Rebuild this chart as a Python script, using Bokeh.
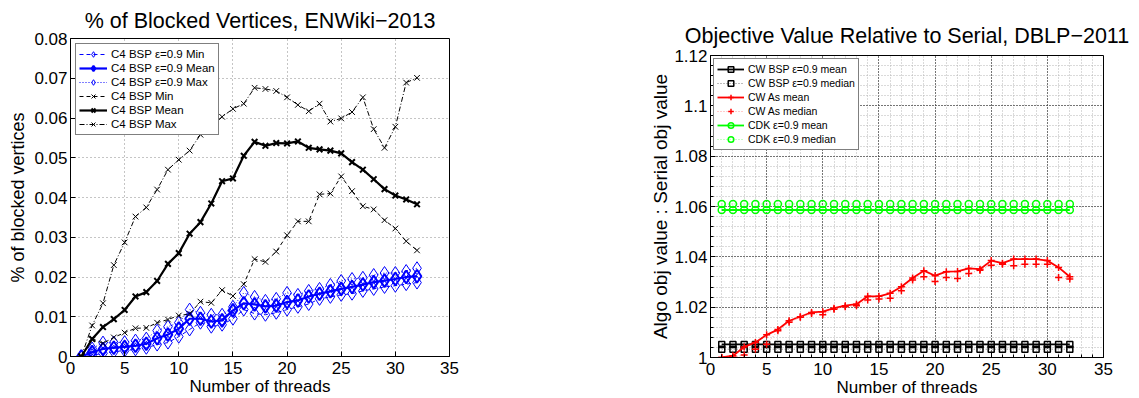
from bokeh.plotting import figure
from bokeh.layouts import row, column
from bokeh.models import (Range1d, FixedTicker, SingleIntervalTicker, CustomJSTickFormatter, Legend)
from bokeh.embed import file_html
from bokeh.resources import INLINE

FONT = "Liberation Sans"

# ---------------- data: left chart ----------------
threads = list(range(1, 33))

bsp_eps_min = [0, 0.0003, 0.0008, 0.0012, 0.0015, 0.0018, 0.0022, 0.0030, 0.0035, 0.0050,
               0.0068, 0.0085, 0.0075, 0.0080, 0.0095, 0.0118, 0.0108, 0.0105, 0.0110, 0.0118,
               0.0125, 0.0132, 0.0145, 0.0150, 0.0155, 0.0158, 0.0165, 0.0170, 0.0175, 0.0178,
               0.0182, 0.0186]
bsp_eps_mean = [0, 0.0011, 0.0019, 0.0022, 0.0024, 0.0027, 0.0032, 0.0046, 0.0055, 0.0070,
                0.0095, 0.0095, 0.0088, 0.0091, 0.0116, 0.0134, 0.0131, 0.0126, 0.0128, 0.0137,
                0.0141, 0.0151, 0.0158, 0.0164, 0.0170, 0.0175, 0.0181, 0.0187, 0.0191, 0.0195,
                0.0200, 0.0202]
bsp_eps_max = [0, 0.0020, 0.0035, 0.0035, 0.0036, 0.0040, 0.0045, 0.0065, 0.0075, 0.0085,
               0.0118, 0.0110, 0.0105, 0.0105, 0.0125, 0.0160, 0.0150, 0.0140, 0.0145, 0.0160,
               0.0155, 0.0165, 0.0170, 0.0180, 0.0190, 0.0195, 0.0198, 0.0205, 0.0210, 0.0210,
               0.0215, 0.0222]
bsp_min = [0, 0.0045, 0.0033, 0.0048, 0.0060, 0.0071, 0.0072, 0.0085, 0.0093, 0.0103,
           0.0107, 0.0138, 0.0135, 0.0167, 0.0152, 0.0182, 0.0245, 0.0238, 0.0264, 0.0305,
           0.0340, 0.0340, 0.0408, 0.0410, 0.0453, 0.0416, 0.0378, 0.0370, 0.0343, 0.0322,
           0.0290, 0.0267]
bsp_mean = [0, 0.0044, 0.0074, 0.0094, 0.0117, 0.0151, 0.0162, 0.0190, 0.0233, 0.0260,
            0.0309, 0.0338, 0.0385, 0.0441, 0.0448, 0.0505, 0.0540, 0.0530, 0.0537, 0.0536,
            0.0541, 0.0525, 0.0521, 0.0518, 0.0511, 0.0489, 0.0470, 0.0446, 0.0421, 0.0405,
            0.0395, 0.0383]
bsp_max = [0, 0.0078, 0.0134, 0.0230, 0.0287, 0.0352, 0.0375, 0.0420, 0.0470, 0.0495,
           0.0518, 0.0558, 0.0580, 0.0603, 0.0623, 0.0636, 0.0676, 0.0673, 0.0668, 0.0652,
           0.0633, 0.0617, 0.0636, 0.0591, 0.0599, 0.0615, 0.0652, 0.0572, 0.0525, 0.0578,
           0.0689, 0.0701]

left_xticks = [0, 5, 10, 15, 20, 25, 30, 35]
left_yticks = [0, 0.01, 0.02, 0.03, 0.04, 0.05, 0.06, 0.07, 0.08]

# ---------------- data: right chart ----------------
cw_bsp_mean = [1.0052] * 32
cw_bsp_median = [1.0033] * 32
cw_as_mean = [1.0000, 1.0007, 1.0042, 1.0060, 1.0090, 1.0111, 1.0146, 1.0162, 1.0179, 1.0182,
              1.0196, 1.0206, 1.0212, 1.0243, 1.0243, 1.0255, 1.0281, 1.0316, 1.0345, 1.0325,
              1.0341, 1.0342, 1.0354, 1.0351, 1.0385, 1.0375, 1.0391, 1.0391, 1.0391, 1.0385,
              1.0358, 1.0321]
cw_as_median = [1.0000, 1.0001, 1.0010, 1.0033, 1.0053, 1.0106, 1.0140, 1.0160, 1.0175, 1.0170,
                1.0192, 1.0202, 1.0206, 1.0228, 1.0232, 1.0235, 1.0265, 1.0308, 1.0321, 1.0302,
                1.0318, 1.0314, 1.0334, 1.0347, 1.0367, 1.0371, 1.0365, 1.0371, 1.0371, 1.0371,
                1.0318, 1.0312]
cdk_mean = [1.0586] * 32
cdk_median = [1.0610] * 32

fmt_code = "return (Math.round(tick*1000)/1000).toString();"


def style_axes(p, tick_size="17px", label_size="17px"):
    for ax in (p.xaxis[0], p.yaxis[0]):
        ax.major_label_text_font = FONT
        ax.major_label_text_font_size = tick_size
        ax.axis_label_text_font = FONT
        ax.axis_label_text_font_size = label_size
        ax.axis_label_text_font_style = "normal"
        ax.major_tick_in = 5
        ax.major_tick_out = 0
        ax.axis_line_color = "black"
        ax.major_tick_line_color = "black"
        ax.major_label_text_color = "black"
        ax.axis_label_text_color = "black"
        ax.formatter = CustomJSTickFormatter(code=fmt_code)
    p.xaxis[0].major_label_standoff = 5
    p.yaxis[0].major_label_standoff = 3
    p.xaxis[0].axis_label_standoff = 0
    p.yaxis[0].axis_label_standoff = 3
    p.outline_line_color = "black"
    p.outline_line_alpha = 1
    p.background_fill_color = "white"
    p.border_fill_color = "white"
    p.title.text_font = FONT
    p.title.text_font_size = "21.5px"
    p.title.text_font_style = "normal"
    p.title.align = "center"
    p.title.text_color = "black"


# ---------------- left figure ----------------
p1 = figure(frame_width=379, frame_height=318, output_backend="svg", toolbar_location=None,
            x_range=Range1d(0, 35), y_range=Range1d(0, 0.08),
            title="% of Blocked Vertices, ENWiki\u22122013",
            min_border_left=70, min_border_top=38, min_border_right=111, min_border_bottom=20)
style_axes(p1)
p1.title.standoff = 12
p1.xaxis[0].ticker = FixedTicker(ticks=left_xticks, minor_ticks=[])
p1.yaxis[0].ticker = FixedTicker(ticks=left_yticks, minor_ticks=[])
p1.xaxis[0].minor_tick_line_color = None
p1.yaxis[0].minor_tick_line_color = None
p1.xaxis.axis_label = "Number of threads"
p1.yaxis.axis_label = "% of blocked vertices"
p1.yaxis[0].axis_label_text_font_size = "18px"
for g in (p1.xgrid[0], p1.ygrid[0]):
    g.grid_line_color = "#8a8a8a"
    g.grid_line_dash = "1 3"
    g.grid_line_width = 1

BLUE = "#0000ff"
r1 = p1.line(threads, bsp_eps_min, line_color=BLUE, line_dash="4 3", line_width=1)
s1 = p1.scatter(threads, bsp_eps_min, marker="diamond", size=13, fill_color=None, line_color=BLUE, line_width=1)
r2 = p1.line(threads, bsp_eps_mean, line_color=BLUE, line_width=2.2)
s2 = p1.scatter(threads, bsp_eps_mean, marker="diamond", size=13, fill_color=None, line_color=BLUE, line_width=2)
r3 = p1.line(threads, bsp_eps_max, line_color=BLUE, line_dash="1 2", line_width=1)
s3 = p1.scatter(threads, bsp_eps_max, marker="diamond", size=13, fill_color=None, line_color=BLUE, line_width=1)
r4 = p1.line(threads, bsp_min, line_color="black", line_dash="4 3", line_width=1)
s4 = p1.scatter(threads, bsp_min, marker="x", size=8, line_color="black", line_width=1)
r5 = p1.line(threads, bsp_mean, line_color="black", line_width=2.2)
s5 = p1.scatter(threads, bsp_mean, marker="x", size=8, line_color="black", line_width=2)
r6 = p1.line(threads, bsp_max, line_color="black", line_dash="5 2 1 2", line_width=1)
s6 = p1.scatter(threads, bsp_max, marker="x", size=8, line_color="black", line_width=1)

leg1 = Legend(items=[
    ("C4 BSP \u03b5=0.9 Min", [r1, s1]),
    ("C4 BSP \u03b5=0.9 Mean", [r2, s2]),
    ("C4 BSP \u03b5=0.9 Max", [r3, s3]),
    ("C4 BSP Min", [r4, s4]),
    ("C4 BSP Mean", [r5, s5]),
    ("C4 BSP Max", [r6, s6]),
], location="top_left")

# ---------------- right figure ----------------
p2 = figure(frame_width=393, frame_height=302, output_backend="svg", toolbar_location=None,
            x_range=Range1d(0, 35), y_range=Range1d(1, 1.12),
            title="Objective Value Relative to Serial, DBLP\u22122011",
            min_border_left=150, min_border_top=55, min_border_right=33, min_border_bottom=20)
style_axes(p2)
p2.title.standoff = 16
p2.xaxis[0].ticker = SingleIntervalTicker(interval=5, num_minor_ticks=5)
p2.yaxis[0].ticker = SingleIntervalTicker(interval=0.02, num_minor_ticks=5)
for ax in (p2.xaxis[0], p2.yaxis[0]):
    ax.minor_tick_in = 3
    ax.minor_tick_out = 0
    ax.minor_tick_line_color = "black"
p2.xaxis.axis_label = "Number of threads"
p2.yaxis.axis_label = "Algo obj value : Serial obj value"
p2.yaxis[0].axis_label_text_font_size = "19px"
p2.yaxis[0].axis_label_standoff = 0
for g in (p2.xgrid[0], p2.ygrid[0]):
    g.grid_line_color = "#111111"
    g.grid_line_dash = "1 2"
    g.grid_line_width = 1
    g.minor_grid_line_color = "#b5b5b5"
    g.minor_grid_line_dash = "1 2"
    g.minor_grid_line_width = 1

RED = "#ff0000"
GREEN = "#00ff00"
q1 = p2.line(threads, cw_bsp_mean, line_color="black", line_width=1.8)
t1 = p2.scatter(threads, cw_bsp_mean, marker="square", size=6, fill_color=None, line_color="black", line_width=1.5)
q2 = p2.line(threads, cw_bsp_median, line_color="#777777", line_dash="1 2", line_width=1)
t2 = p2.scatter(threads, cw_bsp_median, marker="square", size=6, fill_color=None, line_color="black", line_width=1.5)
q3 = p2.line(threads, cw_as_mean, line_color=RED, line_width=1.8)
t3 = p2.scatter(threads, cw_as_mean, marker="cross", size=7, line_color=RED, line_width=1.5)
q4 = p2.line(threads, cw_as_median, line_color="#ff9999", line_dash="1 2", line_width=1)
t4 = p2.scatter(threads, cw_as_median, marker="cross", size=7, line_color=RED, line_width=1.5)
q5 = p2.line(threads, cdk_mean, line_color=GREEN, line_width=1.8)
t5 = p2.scatter(threads, cdk_mean, marker="circle", size=7, fill_color=None, line_color=GREEN, line_width=1.5)
q6 = p2.line(threads, cdk_median, line_color="#88ff88", line_dash="1 2", line_width=1)
t6 = p2.scatter(threads, cdk_median, marker="circle", size=7, fill_color=None, line_color=GREEN, line_width=1.5)

leg2 = Legend(items=[
    ("CW BSP \u03b5=0.9 mean", [q1, t1]),
    ("CW BSP \u03b5=0.9 median", [q2, t2]),
    ("CW As mean", [q3, t3]),
    ("CW As median", [q4, t4]),
    ("CDK \u03b5=0.9 mean", [q5, t5]),
    ("CDK \u03b5=0.9 median", [q6, t6]),
], location="top_left")

for leg, fs, gw, mg in ((leg1, "11.5px", 28, 5), (leg2, "10.5px", 27, 3)):
    leg.label_text_font = FONT
    leg.label_text_font_size = fs
    leg.label_height = 14
    leg.glyph_height = 14
    leg.glyph_width = gw
    leg.spacing = 0
    leg.padding = 3
    leg.margin = mg
    leg.label_standoff = 4
    leg.border_line_color = "black"
    leg.border_line_width = 1.5
    leg.background_fill_color = "white"
    leg.background_fill_alpha = 1
    leg.label_text_color = "black"

p1.add_layout(leg1, "center")
p2.add_layout(leg2, "center")

layout = row(column(p1), column(p2))
open("out.html", "w").write(file_html(layout, INLINE))
